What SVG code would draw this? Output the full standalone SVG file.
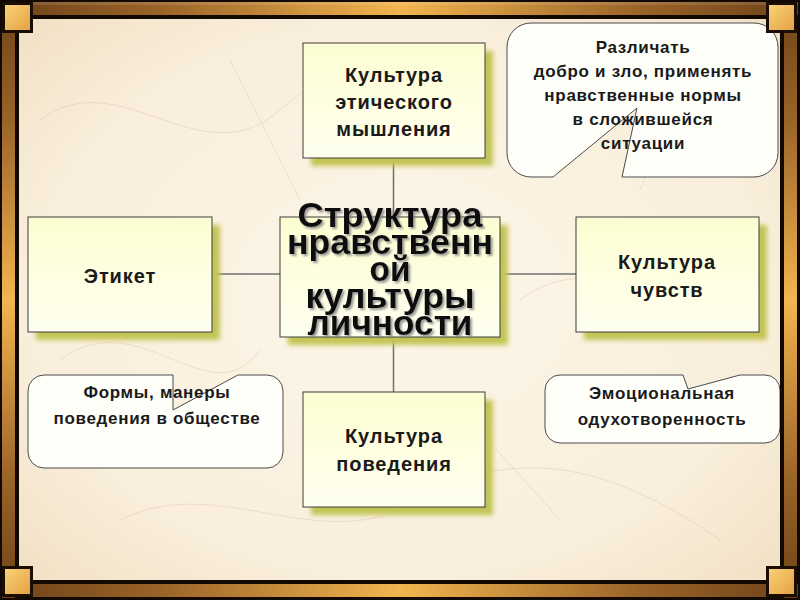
<svg xmlns="http://www.w3.org/2000/svg" width="800" height="600" viewBox="0 0 800 600">
<defs>
<radialGradient id="bg" cx="50%" cy="50%" r="72%">
<stop offset="0" stop-color="#fcf6e8"/>
<stop offset="0.65" stop-color="#f9eedb"/>
<stop offset="1" stop-color="#efdcbd"/>
</radialGradient>
<linearGradient id="barH" x1="0" y1="0" x2="1" y2="0">
<stop offset="0" stop-color="#6e4218"/>
<stop offset="0.2" stop-color="#9a6428"/>
<stop offset="0.5" stop-color="#f3b54f"/>
<stop offset="0.8" stop-color="#9a6428"/>
<stop offset="1" stop-color="#6e4218"/>
</linearGradient>
<linearGradient id="barV" x1="0" y1="0" x2="0" y2="1">
<stop offset="0" stop-color="#6e4218"/>
<stop offset="0.2" stop-color="#9a6428"/>
<stop offset="0.5" stop-color="#f3b54f"/>
<stop offset="0.8" stop-color="#9a6428"/>
<stop offset="1" stop-color="#6e4218"/>
</linearGradient>
<linearGradient id="gold" x1="0" y1="0" x2="1" y2="1">
<stop offset="0" stop-color="#fbd47a"/>
<stop offset="1" stop-color="#e2a040"/>
</linearGradient>
<linearGradient id="boxFill" x1="0" y1="0" x2="0" y2="1">
<stop offset="0" stop-color="#fdfdd2"/>
<stop offset="1" stop-color="#fffff0"/>
</linearGradient>
<filter id="shadow" x="-10%" y="-10%" width="130%" height="130%">
<feGaussianBlur stdDeviation="2.5"/>
</filter>
<filter id="tshadow" x="-10%" y="-10%" width="120%" height="130%">
<feDropShadow dx="2" dy="2" stdDeviation="1.2" flood-color="#808080" flood-opacity="0.8"/>
</filter>
</defs>
<style>
.box{fill:url(#boxFill);stroke:#3c3c3c;stroke-width:1}
.shd{fill:#c2c454;filter:url(#shadow)}
.bt{font-family:"Liberation Sans",Arial,sans-serif;font-weight:bold;font-size:20px;letter-spacing:0.9px;fill:#1a1a1a;text-anchor:middle}
.ct{font-family:"Liberation Sans",Arial,sans-serif;font-weight:bold;font-size:17px;letter-spacing:0.7px;fill:#1a1a1a;text-anchor:middle}
.big{font-family:"Liberation Sans",Arial,sans-serif;font-weight:bold;font-size:35px;fill:#111;text-anchor:middle;filter:url(#tshadow)}
.call{fill:#fffffa;stroke:#4a4a4a;stroke-width:1}
.conn{stroke:#707070;stroke-width:1.5;fill:none}
.corner{fill:url(#gold);stroke:#1a0e04;stroke-width:3}
.tex{fill:none;stroke:#d8a8a0;stroke-width:1;opacity:0.3}
</style>

<!-- background -->
<rect x="0" y="0" width="800" height="600" fill="url(#bg)"/>
<g id="texture">
<path class="tex" d="M40,120 C120,60 200,180 280,110 S420,60 470,140"/>
<path class="tex" d="M60,360 C140,300 210,420 260,350"/>
<path class="tex" d="M520,300 C600,240 660,330 740,280"/>
<path class="tex" d="M120,520 C220,470 320,560 420,500 S620,470 720,540"/>
<path class="tex" d="M230,60 L300,200 M470,420 L560,520 M640,190 L700,60"/>
</g>

<!-- connectors -->
<g id="connectors">
<line class="conn" x1="393.5" y1="158" x2="393.5" y2="392"/>
<line class="conn" x1="212" y1="274" x2="576" y2="274"/>
</g>

<!-- nodes -->
<g id="node-ethics">
<rect class="shd" x="311" y="51" width="182" height="115"/>
<rect class="box" x="303" y="43" width="182" height="115"/>
<text class="bt" x="394" y="82">Культура</text>
<text class="bt" x="394" y="109">этического</text>
<text class="bt" x="394" y="136">мышления</text>
</g>

<g id="node-etiquette">
<rect class="shd" x="36" y="225" width="184" height="115"/>
<rect class="box" x="28" y="217" width="184" height="115"/>
<text class="bt" x="120" y="283">Этикет</text>
</g>

<g id="node-feelings">
<rect class="shd" x="584" y="225" width="183" height="115"/>
<rect class="box" x="576" y="217" width="183" height="115"/>
<text class="bt" x="667" y="269">Культура</text>
<text class="bt" x="667" y="297">чувств</text>
</g>

<g id="node-behavior">
<rect class="shd" x="311" y="400" width="182" height="115"/>
<rect class="box" x="303" y="392" width="182" height="115"/>
<text class="bt" x="394" y="443">Культура</text>
<text class="bt" x="394" y="471">поведения</text>
</g>

<g id="node-center">
<rect class="shd" x="288" y="225" width="220" height="120"/>
<rect class="box" x="280" y="217" width="220" height="120"/>
<text class="big" x="390" y="227" textLength="185" lengthAdjust="spacingAndGlyphs">Структура</text>
<text class="big" x="390" y="254" textLength="206" lengthAdjust="spacingAndGlyphs">нравственн</text>
<text class="big" x="390" y="281" textLength="41" lengthAdjust="spacingAndGlyphs">ой</text>
<text class="big" x="390" y="308" textLength="169" lengthAdjust="spacingAndGlyphs">культуры</text>
<text class="big" x="390" y="335" textLength="165" lengthAdjust="spacingAndGlyphs">личности</text>
</g>

<!-- callouts -->
<g id="callout-ethics">
<path class="call" d="M531,23 H754 A24 24 0 0 1 778,47 V153 A24 24 0 0 1 754,177 H622 L637,108 L553,177 H531 A24 24 0 0 1 507,153 V47 A24 24 0 0 1 531,23 Z"/>
<text class="ct" x="643" y="53">Различать</text>
<text class="ct" x="643" y="77">добро и зло, применять</text>
<text class="ct" x="643" y="101">нравственные нормы</text>
<text class="ct" x="643" y="125">в сложившейся</text>
<text class="ct" x="643" y="149">ситуации</text>
</g>

<g id="callout-etiquette">
<path class="call" d="M44,375 H173 V410 L238,375 H267 A16 16 0 0 1 283,391 V452 A16 16 0 0 1 267,468 H44 A16 16 0 0 1 28,452 V391 A16 16 0 0 1 44,375 Z"/>
<text class="ct" x="157" y="398">Формы, манеры</text>
<text class="ct" x="157" y="424">поведения в обществе</text>
</g>

<g id="callout-feelings">
<path class="call" d="M560,375 H683 L688,389 L740,375 H765 A15 15 0 0 1 780,390 V428 A15 15 0 0 1 765,443 H560 A15 15 0 0 1 545,428 V390 A15 15 0 0 1 560,375 Z"/>
<text class="ct" x="662" y="399">Эмоциональная</text>
<text class="ct" x="662" y="425">одухотворенность</text>
</g>

<!-- frame -->
<g id="frame">
<rect x="0" y="0" width="800" height="19" fill="#120a02"/>
<rect x="0" y="580" width="800" height="20" fill="#120a02"/>
<rect x="0" y="0" width="19" height="600" fill="#120a02"/>
<rect x="780" y="0" width="20" height="600" fill="#120a02"/>
<rect x="2" y="2" width="796" height="13" fill="url(#barH)"/>
<rect x="2" y="584" width="796" height="13" fill="url(#barH)"/>
<rect x="2" y="2" width="13" height="596" fill="url(#barV)"/>
<rect x="784" y="2" width="13" height="596" fill="url(#barV)"/>
<rect x="2" y="2" width="796" height="3" fill="#fff" opacity="0.12"/>
<rect class="corner" x="3.5" y="3.5" width="28" height="28"/>
<rect class="corner" x="767.5" y="3.5" width="28" height="28"/>
<rect class="corner" x="3.5" y="567.5" width="28" height="28"/>
<rect class="corner" x="767.5" y="567.5" width="28" height="28"/>
</g>
</svg>
